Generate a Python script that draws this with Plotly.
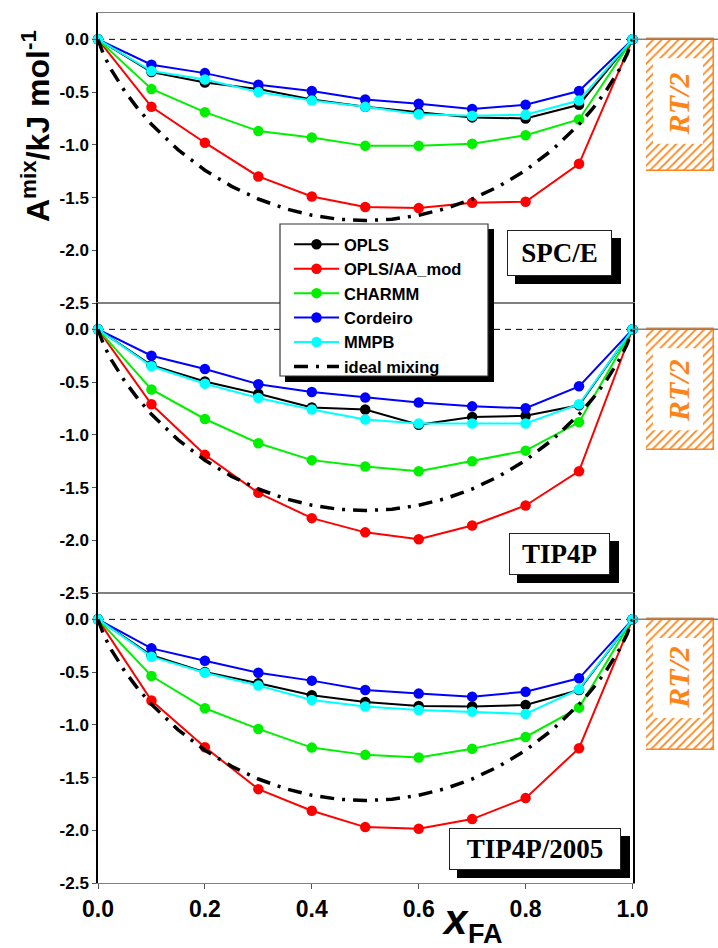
import plotly.graph_objects as go

# ---------------- data ----------------
x_fa = [0.0, 0.1, 0.2, 0.3, 0.4, 0.5, 0.6, 0.7, 0.8, 0.9, 1.0]

series_names = ["OPLS", "OPLS/AA_mod", "CHARMM", "Cordeiro", "MMPB"]
series_colors = ["#000000", "#FF0000", "#00F000", "#0000FF", "#00FFFF"]

# SPC/E
spce_opls = [0.0, -0.31, -0.41, -0.47, -0.57, -0.64, -0.69, -0.74, -0.75, -0.62, 0.0]
spce_aamod = [0.0, -0.64, -0.98, -1.30, -1.49, -1.59, -1.60, -1.55, -1.54, -1.18, 0.0]
spce_charmm = [0.0, -0.47, -0.69, -0.87, -0.93, -1.01, -1.01, -0.99, -0.91, -0.76, 0.0]
spce_cordeiro = [0.0, -0.24, -0.32, -0.43, -0.49, -0.57, -0.61, -0.66, -0.62, -0.49, 0.0]
spce_mmpb = [0.0, -0.30, -0.38, -0.50, -0.58, -0.64, -0.71, -0.725, -0.715, -0.58, 0.0]

# TIP4P
tip4p_opls = [0.0, -0.34, -0.495, -0.61, -0.74, -0.76, -0.905, -0.83, -0.82, -0.72, 0.0]
tip4p_aamod = [0.0, -0.71, -1.19, -1.55, -1.79, -1.925, -1.99, -1.86, -1.67, -1.345, 0.0]
tip4p_charmm = [0.0, -0.57, -0.85, -1.08, -1.24, -1.30, -1.345, -1.25, -1.15, -0.88, 0.0]
tip4p_cordeiro = [0.0, -0.25, -0.376, -0.52, -0.594, -0.647, -0.694, -0.73, -0.748, -0.54, 0.0]
tip4p_mmpb = [0.0, -0.35, -0.515, -0.65, -0.76, -0.855, -0.893, -0.893, -0.893, -0.71, 0.0]

# TIP4P/2005
t2005_opls = [0.0, -0.34, -0.50, -0.606, -0.72, -0.783, -0.821, -0.827, -0.811, -0.67, 0.0]
t2005_aamod = [0.0, -0.77, -1.212, -1.61, -1.815, -1.97, -1.986, -1.894, -1.695, -1.222, 0.0]
t2005_charmm = [0.0, -0.537, -0.843, -1.039, -1.216, -1.285, -1.31, -1.228, -1.115, -0.837, 0.0]
t2005_cordeiro = [0.0, -0.275, -0.392, -0.506, -0.581, -0.67, -0.704, -0.733, -0.686, -0.559, 0.0]
t2005_mmpb = [0.0, -0.354, -0.506, -0.628, -0.764, -0.827, -0.859, -0.875, -0.897, -0.663, 0.0]

# ideal mixing curve
ideal_x = [0.0, 0.01, 0.025, 0.05, 0.075, 0.1, 0.15, 0.2, 0.25, 0.3, 0.35, 0.4, 0.45, 0.5,
           0.55, 0.6, 0.65, 0.7, 0.75, 0.8, 0.85, 0.9, 0.925, 0.95, 0.975, 0.99, 1.0]
ideal_y = [0.0, -0.139, -0.290, -0.492, -0.660, -0.806, -1.048, -1.241, -1.394, -1.514, -1.605,
           -1.668, -1.706, -1.718, -1.706, -1.668, -1.605, -1.514, -1.394, -1.241, -1.048,
           -0.806, -0.660, -0.492, -0.290, -0.139, 0.0]

panel_labels = ["SPC/E", "TIP4P", "TIP4P/2005"]
panels = [
    [spce_opls, spce_aamod, spce_charmm, spce_cordeiro, spce_mmpb],
    [tip4p_opls, tip4p_aamod, tip4p_charmm, tip4p_cordeiro, tip4p_mmpb],
    [t2005_opls, t2005_aamod, t2005_charmm, t2005_cordeiro, t2005_mmpb],
]
rt_half_heights = [1.245, 1.146, 1.238]   # hatched RT/2 boxes (kJ/mol)

y_tickvals = [0.0, -0.5, -1.0, -1.5, -2.0, -2.5]
y_ticktext = ["0.0", "-0.5", "-1.0", "-1.5", "-2.0", "-2.5"]
x_tickvals = [0.0, 0.2, 0.4, 0.6, 0.8, 1.0]
x_ticktext = ["0.0", "0.2", "0.4", "0.6", "0.8", "1.0"]

# ---------------- layout geometry ----------------
W, H = 718, 948
ML, MR, MT, MB = 98, 4, 13, 65
PW = W - ML - MR   # 616
PH = H - MT - MB   # 870


def px(xp):
    return (xp - ML) / PW


def py(yp):
    return 1 - (yp - MT) / PH


XD = px(632.5)
RT0 = px(646)
ORANGE = "#FF8418"
SANS = "Liberation Sans"
SERIF = "Liberation Serif"

fig = go.Figure()

ydomains = [[2 / 3, 1.0], [1 / 3, 2 / 3], [0.0, 1 / 3]]
ax_suffix = ["", "2", "3"]

for p in range(3):
    xa = "x" + ax_suffix[p]
    ya = "y" + ax_suffix[p]
    for i, name in enumerate(series_names):
        fig.add_trace(go.Scatter(
            x=x_fa, y=panels[p][i], mode="lines+markers", name=name,
            line=dict(color=series_colors[i], width=2),
            marker=dict(color=series_colors[i], size=10.5),
            xaxis=xa, yaxis=ya, showlegend=(p == 0), cliponaxis=False,
        ))
    fig.add_trace(go.Scatter(
        x=ideal_x, y=ideal_y, mode="lines", name="ideal mixing",
        line=dict(color="black", width=3.5, dash="14px,8px,3px,8px"),
        xaxis=xa, yaxis=ya, showlegend=(p == 0),
    ))
    # RT/2 hatched box
    fig.add_trace(go.Bar(
        x=[0.5], y=[-rt_half_heights[p]], width=[1.0],
        marker=dict(color="white", line=dict(color=ORANGE, width=1.5),
                    pattern=dict(shape="/", fgcolor=ORANGE, size=6, solidity=0.3,
                                 fgopacity=1)),
        xaxis="x" + str(4 + p), yaxis=ya, showlegend=False, hoverinfo="skip",
    ))

axis_common_y = dict(range=[-2.5, 0.25], showline=True, mirror=True, linecolor="black",
                     linewidth=1.5, ticks="outside", ticklen=4, tickcolor="#555555",
                     tickvals=y_tickvals, ticktext=y_ticktext, showgrid=False, zeroline=False,
                     tickfont=dict(family=SANS, size=17, color="black", weight="bold"))

layout = dict(
    width=W, height=H, autosize=False, margin=dict(l=ML, r=MR, t=MT, b=MB, autoexpand=False),
    paper_bgcolor="white", plot_bgcolor="white", showlegend=True,
    legend=dict(x=px(289), y=py(227), xanchor="left", yanchor="top",
                bgcolor="rgba(0,0,0,0)", borderwidth=0, itemwidth=45,
                font=dict(family=SANS, size=16.5, color="black", weight="bold"),
                tracegroupgap=0),
    bargap=0,
)

for p in range(3):
    s = ax_suffix[p]
    xkey = "xaxis" + s
    ykey = "yaxis" + s
    xa = dict(domain=[0, XD], range=[0, 1], anchor="y" + s, showline=True, mirror=True,
              linecolor="#808080", linewidth=1.2, showgrid=False, zeroline=False,
              tickvals=x_tickvals, ticktext=x_ticktext, automargin=False)
    if p < 2:
        xa.update(showticklabels=False, ticks="")
    else:
        xa.update(ticks="outside", ticklen=5, tickcolor="#555555",
                  tickfont=dict(family=SANS, size=23, color="black", weight="bold"))
    layout[xkey] = xa
    ya = dict(axis_common_y)
    ya.update(domain=ydomains[p], anchor="x" + s, automargin=False)
    layout[ykey] = ya
    layout["xaxis" + str(4 + p)] = dict(domain=[RT0, 1.0], range=[0, 1], anchor="y" + s,
                                         visible=False, fixedrange=True, automargin=False)

fig.update_layout(**layout)

shapes = []
annotations = []

rt_inner = [(-0.18, -0.99, -0.61), (-0.18, -0.956, -0.58), (-0.177, -0.935, -0.55)]
label_boxes = [  # (x0, x1, y0, y1) pixel frames of the labels
    (507, 612, 230, 276),
    (509, 610, 533, 575),
    (449, 621, 828, 870),
]
for p in range(3):
    s = ax_suffix[p]
    yref = "y" + s
    # dashed zero line
    shapes.append(dict(type="line", xref="x" + s, yref=yref, x0=0, x1=1, y0=0, y1=0,
                       line=dict(color="black", width=1, dash="6px,5px"), layer="below"))
    # grey line right of plot at zero
    shapes.append(dict(type="line", xref="paper", yref=yref, x0=XD, x1=px(718), y0=0, y1=0,
                       line=dict(color="#808080", width=1.5)))
    # white inner rectangle in RT/2 box
    y_top, y_bot, y_txt = rt_inner[p]
    shapes.append(dict(type="rect", xref="paper", yref=yref, x0=px(653), x1=px(703),
                       y0=y_bot, y1=y_top, fillcolor="white", line=dict(width=0), layer="above"))
    annotations.append(dict(xref="paper", yref=yref, x=px(678.5), y=y_txt, text="RT/2",
                            textangle=-90, showarrow=False, xanchor="center", yanchor="middle",
                            font=dict(family=SERIF, size=30, color=ORANGE, weight="bold",
                                      style="italic")))
    # panel label with shadow
    x0, x1, y0, y1 = label_boxes[p]
    shapes.append(dict(type="rect", xref="paper", yref="paper", x0=px(x0 + 8), x1=px(x1 + 9),
                       y0=py(y1 + 8), y1=py(y0 + 8), fillcolor="black", line=dict(width=0),
                       layer="above"))
    annotations.append(dict(xref="paper", yref="paper", x=px((x0 + x1) / 2), y=py((y0 + y1) / 2),
                            text=panel_labels[p], showarrow=False, xanchor="center",
                            yanchor="middle", width=x1 - x0 - 2, height=y1 - y0 - 2,
                            borderpad=0, bgcolor="white", bordercolor="#222222", borderwidth=1,
                            font=dict(family=SERIF, size=27, color="black", weight="bold")))

# legend shadow and frame
shapes.append(dict(type="rect", xref="paper", yref="paper", x0=px(285), x1=px(494),
                   y0=py(382), y1=py(229), fillcolor="black", line=dict(width=0), layer="above"))
shapes.append(dict(type="rect", xref="paper", yref="paper", x0=px(280), x1=px(488),
                   y0=py(376), y1=py(224), fillcolor="white",
                   line=dict(color="#333333", width=1.2), layer="above"))

# axis titles
annotations.append(dict(xref="paper", yref="paper", x=px(36), y=py(126),
                        text="A<sup>mix</sup>/kJ mol<sup>-1</sup>", textangle=-90,
                        showarrow=False, xanchor="center", yanchor="middle",
                        font=dict(family=SANS, size=32, color="black", weight="bold")))
annotations.append(dict(xref="paper", yref="paper", x=px(455), y=py(919), text="x",
                        showarrow=False, xanchor="center", yanchor="middle",
                        font=dict(family=SANS, size=42, color="black", weight="bold",
                                  style="italic")))
annotations.append(dict(xref="paper", yref="paper", x=px(485), y=py(934), text="FA",
                        showarrow=False, xanchor="center", yanchor="middle",
                        font=dict(family=SANS, size=27, color="black", weight="bold")))

fig.update_layout(shapes=shapes, annotations=annotations)
fig.write_html("out.html",
               config={"responsive": False, "displayModeBar": False},
               post_script="document.body.style.margin='0px';")
